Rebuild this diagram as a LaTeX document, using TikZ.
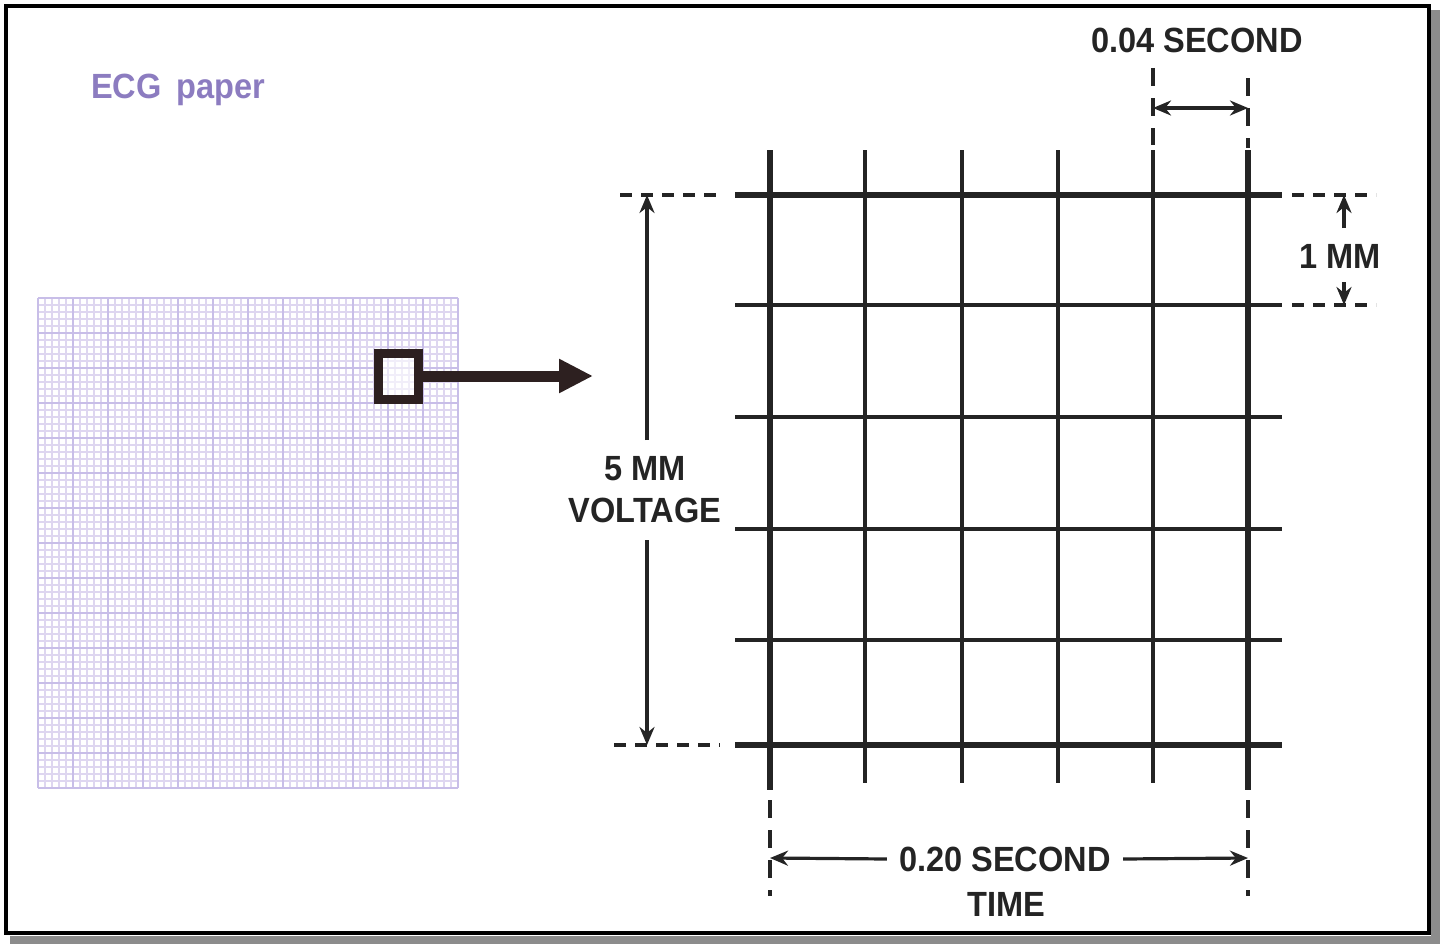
\documentclass[tikz,border=0pt]{standalone}
\usepackage{fontspec}
\setmainfont{Liberation Sans}
\newfontfamily\labfont[FakeStretch=0.93]{Liberation Sans}
\usetikzlibrary{arrows.meta}
\definecolor{ink}{RGB}{36,36,36}
\definecolor{paperfine}{RGB}{222,214,240}
\definecolor{papermajor}{RGB}{200,190,232}
\definecolor{ecgpurple}{RGB}{140,124,192}
\definecolor{markink}{RGB}{45,32,32}
\begin{document}
\begin{tikzpicture}[x=1pt,y=-1pt,
  thickline/.style={ink, line width=5.6pt},
  thinline/.style={ink, line width=3.2pt},
  dimdash/.style={ink, line width=3.2pt, dash pattern=on 12pt off 9pt},
  vdash/.style={ink, line width=3.2pt, dash pattern=on 18pt off 12pt},
  dimarrow/.style={ink, line width=3.2pt, -{Stealth[length=18pt,width=15pt]}},
  lab/.style={font=\labfont\bfseries\fontsize{35}{42}\selectfont, text=ink, inner sep=0pt, align=center},
]
\useasboundingbox (0,0) rectangle (1440,950);
\fill[white] (0,0) rectangle (1440,950);
% frame with shadow
\fill[black!45] (1431,10) rectangle (1440,944);
\fill[black!45] (10,936) rectangle (1440,944);
\draw[black, line width=4pt] (6,6) rectangle (1429,933);

% title
\node[font=\labfont\bfseries\fontsize{35}{42}\selectfont, text=ecgpurple, anchor=west, inner sep=0pt] (title) at (91,90) {ECG\, paper};

% ECG paper
\foreach \i in {0,...,60} \draw[paperfine, line width=1.3pt] (38+7*\i,298) -- (38+7*\i,788);
\foreach \j in {0,...,70} \draw[paperfine, line width=1.3pt] (38,298+7*\j) -- (458,298+7*\j);
\foreach \i in {0,...,12} \draw[papermajor, line width=1.4pt] (38+35*\i,298) -- (38+35*\i,788);
\foreach \j in {0,...,14} \draw[papermajor, line width=1.4pt] (38,298+35*\j) -- (458,298+35*\j);

% magnifier square and arrow
\node[draw=markink, line width=9pt, minimum width=40pt, minimum height=46pt, inner sep=0pt, fill=white, fill opacity=0.6, draw opacity=1] (sq) at (398,376) {};
\coordinate (bigtip) at (593,376);
\draw[markink, line width=11pt, -{Triangle[length=34pt,width=32pt]}] (sq.east) -- (bigtip);

% big grid: horizontal lines
\draw[thickline] (735,195) -- (1282,195);
\draw[thickline] (735,745) -- (1282,745);
\foreach \y in {305,417,529,640} \draw[thinline] (735,\y) -- (1282,\y);
% vertical lines
\draw[thickline] (770,150) -- (770,790);
\draw[thickline] (1248,150) -- (1248,790);
\foreach \x in {865,962,1058,1153} \draw[thinline] (\x,150) -- (\x,783);

% 0.04 second
\draw[vdash] (1153,68) -- (1153,145);
\draw[vdash] (1248,78) -- (1248,148);
\coordinate (t1) at (1153,108);
\coordinate (t2) at (1248,108);
\draw[ink, line width=3.2pt, {Stealth[length=18pt,width=15pt]}-{Stealth[length=18pt,width=15pt]}] (t1) -- (t2);
\node[lab] (sec004) at (1197,40) {0.04 SECOND};

% 1 mm
\draw[dimdash] (1292,195) -- (1376,195);
\draw[dimdash] (1292,305) -- (1376,305);
\node[lab] (onemm) at (1340,256) {1 MM};
\coordinate (m1) at (1344,195);
\coordinate (m2) at (1344,305);
\draw[dimarrow] (1344,228) -- (m1);
\draw[dimarrow] (1344,282) -- (m2);

% 5 mm voltage
\draw[dimdash] (620,195) -- (720,195);
\draw[dimdash] (614,745) -- (720,745);
\node[lab] (volt) at (645,490) {5 MM\\VOLTAGE};
\coordinate (v1) at (647,195);
\coordinate (v2) at (647,745);
\draw[dimarrow] (647,440) -- (v1);
\draw[dimarrow] (647,540) -- (v2);

% 0.20 second time
\draw[vdash] (770,800) -- (770,896);
\draw[vdash] (1248,800) -- (1248,896);
\node[lab] (sec020) at (1005,859) {0.20 SECOND};
\node[lab] (timel) at (1006,904) {TIME};
\coordinate (b1) at (770,858);
\coordinate (b2) at (1248,858);
\draw[dimarrow] (sec020.west) ++(-12,0) -- (b1);
\draw[dimarrow] (sec020.east) ++(12,0) -- (b2);
\end{tikzpicture}
\end{document}
